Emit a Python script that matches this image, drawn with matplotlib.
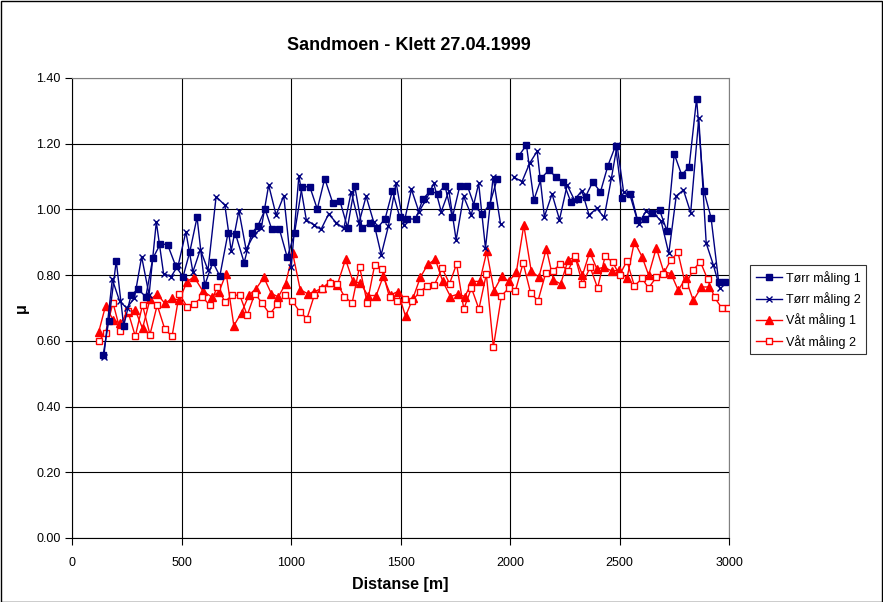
import matplotlib
matplotlib.use("Agg")
import matplotlib.pyplot as plt
from matplotlib.patches import Rectangle
import numpy as np

plt.rcParams['font.family'] = ['Liberation Sans', 'DejaVu Sans']

GAP = np.nan  # no dry reading recorded around 1990 m

# Tørr måling 1
torr1_x = [142, 168, 202, 236, 270, 302, 337, 369, 404, 437, 474, 507, 538, 571,
           606, 643, 675, 712, 747, 786, 820, 848, 882, 912, 947, 983, 1016, 1050,
           1086, 1120, 1154, 1190, 1223, 1258, 1291, 1325, 1360, 1393, 1430, 1463, 1497, 1531,
           1569, 1602, 1635, 1669, 1703, 1737, 1771, 1805, 1838, 1873, 1907, 1941, 1990,
           2040, 2075, 2109, 2143, 2178, 2210, 2243, 2278, 2311, 2345, 2378, 2413, 2447, 2482,
           2512, 2547, 2581, 2616, 2649, 2683, 2717, 2750, 2784, 2818, 2852, 2885, 2918, 2953, 2983]
torr1_y = [0.556, 0.661, 0.843, 0.646, 0.740, 0.757, 0.734, 0.851, 0.896, 0.892, 0.827, 0.795, 0.871, 0.976,
           0.769, 0.840, 0.797, 0.927, 0.925, 0.838, 0.927, 0.949, 1.000, 0.940, 0.940, 0.854, 0.927, 1.069,
           1.069, 1.001, 1.094, 1.021, 1.027, 0.945, 1.071, 0.943, 0.958, 0.942, 0.972, 1.056, 0.976, 0.972,
           0.970, 1.031, 1.056, 1.048, 1.072, 0.976, 1.072, 1.072, 1.010, 0.986, 1.015, 1.092, GAP,
           1.163, 1.196, 1.029, 1.095, 1.120, 1.098, 1.085, 1.022, 1.031, 1.039, 1.084, 1.053, 1.133, 1.194,
           1.034, 1.046, 0.968, 0.970, 0.988, 0.998, 0.934, 1.169, 1.105, 1.130, 1.337, 1.057, 0.975, 0.779, 0.779]

# Tørr måling 2
torr2_x = [145, 184, 218, 250, 285, 318, 352, 385, 418, 452, 485, 520, 552, 586,
           621, 658, 698, 727, 762, 795, 830, 864, 898, 932, 967, 1001, 1036,
           1070, 1104, 1137, 1172, 1206, 1241, 1275, 1310, 1343, 1377, 1412, 1445, 1480, 1514,
           1550, 1584, 1617, 1652, 1686, 1721, 1754, 1788, 1823, 1857, 1888, 1923, 1957, 1990,
           2017, 2055, 2090, 2124, 2157, 2192, 2226, 2261, 2294, 2328, 2361, 2396, 2430, 2463, 2489,
           2519, 2553, 2587, 2621, 2656, 2690, 2725, 2759, 2792, 2825, 2862, 2896, 2928, 2958]
torr2_y = [0.551, 0.787, 0.720, 0.700, 0.730, 0.856, 0.740, 0.962, 0.805, 0.795, 0.830, 0.932, 0.810, 0.878,
           0.815, 1.039, 1.013, 0.874, 0.996, 0.878, 0.922, 0.942, 1.074, 0.983, 1.041, 0.825, 1.102,
           0.968, 0.953, 0.939, 0.986, 0.960, 0.942, 1.054, 0.958, 1.040, 0.963, 0.862, 0.950, 1.081, 0.953,
           1.061, 0.993, 1.030, 1.079, 0.993, 1.057, 0.907, 1.040, 0.983, 1.079, 0.882, 1.099, 0.955, GAP,
           1.098, 1.085, 1.141, 1.177, 0.978, 1.047, 0.969, 1.074, 1.029, 1.057, 0.983, 1.003, 0.976, 1.095, 1.195,
           1.052, 1.046, 0.955, 0.995, 0.988, 0.965, 0.866, 1.041, 1.059, 0.990, 1.278, 0.897, 0.832, 0.761]

# Våt måling 1
vat1_x = [122, 153, 187, 221, 255, 289, 322, 356, 389, 424, 457, 490, 525, 557,
          597, 637, 671, 704, 739, 774, 808, 841, 876, 910, 942, 975, 1008, 1042,
          1077, 1107, 1142, 1177, 1211, 1249, 1283, 1317, 1351, 1389, 1421, 1455, 1488, 1523,
          1557, 1591, 1625, 1659, 1693, 1728, 1762, 1794, 1828, 1862, 1894, 1927, 1962, 1995,
          2029, 2063, 2097, 2132, 2166, 2198, 2231, 2266, 2299, 2331, 2364, 2397, 2431, 2466,
          2496, 2534, 2568, 2603, 2633, 2668, 2702, 2735, 2768, 2802, 2837, 2874, 2907]
vat1_y = [0.627, 0.706, 0.665, 0.653, 0.688, 0.693, 0.638, 0.726, 0.742, 0.714, 0.729, 0.724, 0.780, 0.795,
          0.752, 0.734, 0.749, 0.805, 0.646, 0.686, 0.739, 0.759, 0.793, 0.744, 0.734, 0.773, 0.866, 0.756,
          0.743, 0.750, 0.760, 0.780, 0.770, 0.848, 0.781, 0.776, 0.738, 0.738, 0.796, 0.740, 0.750, 0.675,
          0.730, 0.794, 0.833, 0.848, 0.781, 0.735, 0.742, 0.735, 0.781, 0.781, 0.872, 0.753, 0.796, 0.781,
          0.809, 0.952, 0.812, 0.794, 0.881, 0.786, 0.773, 0.847, 0.855, 0.800, 0.870, 0.819, 0.824, 0.812,
          0.815, 0.790, 0.902, 0.856, 0.800, 0.883, 0.810, 0.805, 0.754, 0.790, 0.723, 0.764, 0.764]

# Våt måling 2
vat2_x = [122, 153, 187, 221, 255, 289, 322, 356, 389, 424, 457, 490, 525, 557,
          594, 629, 663, 698, 731, 766, 800, 835, 869, 903, 938, 973, 1006, 1040,
          1073, 1107, 1142, 1177, 1211, 1244, 1279, 1313, 1348, 1382, 1415, 1450, 1485, 1519,
          1553, 1587, 1622, 1655, 1690, 1724, 1756, 1789, 1824, 1858, 1892, 1924, 1961, 1995,
          2025, 2060, 2094, 2128, 2163, 2197, 2229, 2265, 2297, 2331, 2366, 2400, 2434, 2469,
          2500, 2534, 2568, 2603, 2633, 2667, 2699, 2734, 2767, 2801, 2836, 2869, 2902, 2934, 2967, 2997]
vat2_y = [0.599, 0.625, 0.716, 0.630, 0.691, 0.614, 0.709, 0.619, 0.709, 0.635, 0.614, 0.744, 0.704, 0.712,
          0.734, 0.709, 0.764, 0.719, 0.739, 0.739, 0.678, 0.744, 0.714, 0.681, 0.712, 0.739, 0.722, 0.688,
          0.668, 0.740, 0.759, 0.776, 0.774, 0.735, 0.715, 0.826, 0.715, 0.831, 0.818, 0.732, 0.720, 0.727,
          0.720, 0.750, 0.766, 0.771, 0.821, 0.774, 0.834, 0.697, 0.761, 0.697, 0.803, 0.581, 0.737, 0.761,
          0.753, 0.837, 0.746, 0.722, 0.806, 0.814, 0.833, 0.814, 0.857, 0.773, 0.824, 0.761, 0.857, 0.840,
          0.800, 0.843, 0.767, 0.790, 0.761, 0.793, 0.802, 0.846, 0.869, 0.771, 0.815, 0.841, 0.788, 0.732, 0.700, 0.700]

x_ticks = [0, 500, 1000, 1500, 2000, 2500, 3000]
y_ticks = [0.0, 0.2, 0.4, 0.6, 0.8, 1.0, 1.2, 1.4]

NAVY = '#000080'
RED = '#FF0000'

W, H = 883, 602
fig = plt.figure(figsize=(W / 100, H / 100), dpi=100)
ax = fig.add_axes([72 / W, 64 / H, 657 / W, 460 / H])

ax.plot(torr1_x, torr1_y, color=NAVY, lw=1.0, marker='s', ms=5, mfc=NAVY, mec=NAVY,
        label='Tørr måling 1', zorder=4)
ax.plot(torr2_x, torr2_y, color=NAVY, lw=1.0, marker='x', ms=5, mew=1.0, mec=NAVY,
        label='Tørr måling 2', zorder=4)
ax.plot(vat1_x, vat1_y, color=RED, lw=1.0, marker='^', ms=5.5, mfc=RED, mec=RED,
        label='Våt måling 1', zorder=3)
ax.plot(vat2_x, vat2_y, color=RED, lw=1.0, marker='s', ms=5, mfc='white', mec=RED, mew=1.0,
        label='Våt måling 2', zorder=3)

ax.set_xlim(0, 3000)
ax.set_ylim(0, 1.4)
ax.set_xticks(x_ticks)
ax.set_yticks(y_ticks)
ax.set_yticklabels([f'{v:.2f}' for v in y_ticks])
ax.tick_params(axis='both', direction='out', length=5, width=0.8, labelsize=9, colors='black')
ax.tick_params(axis='x', pad=9)
ax.tick_params(axis='y', pad=3)
ax.grid(True, color='black', lw=0.8)
ax.set_axisbelow(True)
for s in ax.spines.values():
    s.set_color('#808080')
    s.set_linewidth(0.8)
ax.spines['left'].set_color('black')
ax.spines['bottom'].set_color('black')

fig.text(409 / W, 1 - 45 / H, 'Sandmoen - Klett 27.04.1999', fontsize=13, fontweight='bold',
         ha='center', va='center')
fig.text(400.5 / W, 1 - 584 / H, 'Distanse [m]', fontsize=11.5, fontweight='bold',
         ha='center', va='center')
fig.text(21 / W, 1 - 308 / H, 'μ', fontsize=11.5, fontweight='bold', rotation=90,
         ha='center', va='center')

leg = fig.legend(loc='upper left', bbox_to_anchor=(750 / W, 1 - 265 / H), fontsize=9,
                 frameon=True, fancybox=False, edgecolor='black', borderpad=0.45,
                 borderaxespad=0, handlelength=2.1, handletextpad=0.3, labelspacing=0.6)
leg.get_frame().set_linewidth(0.8)

fig.patches.append(Rectangle((0.5 / W, 0.5 / H), 1 - 1.5 / W, 1 - 1.5 / H, transform=fig.transFigure,
                             fill=False, edgecolor='black', lw=1.0))

fig.savefig('out.png', dpi=100)
